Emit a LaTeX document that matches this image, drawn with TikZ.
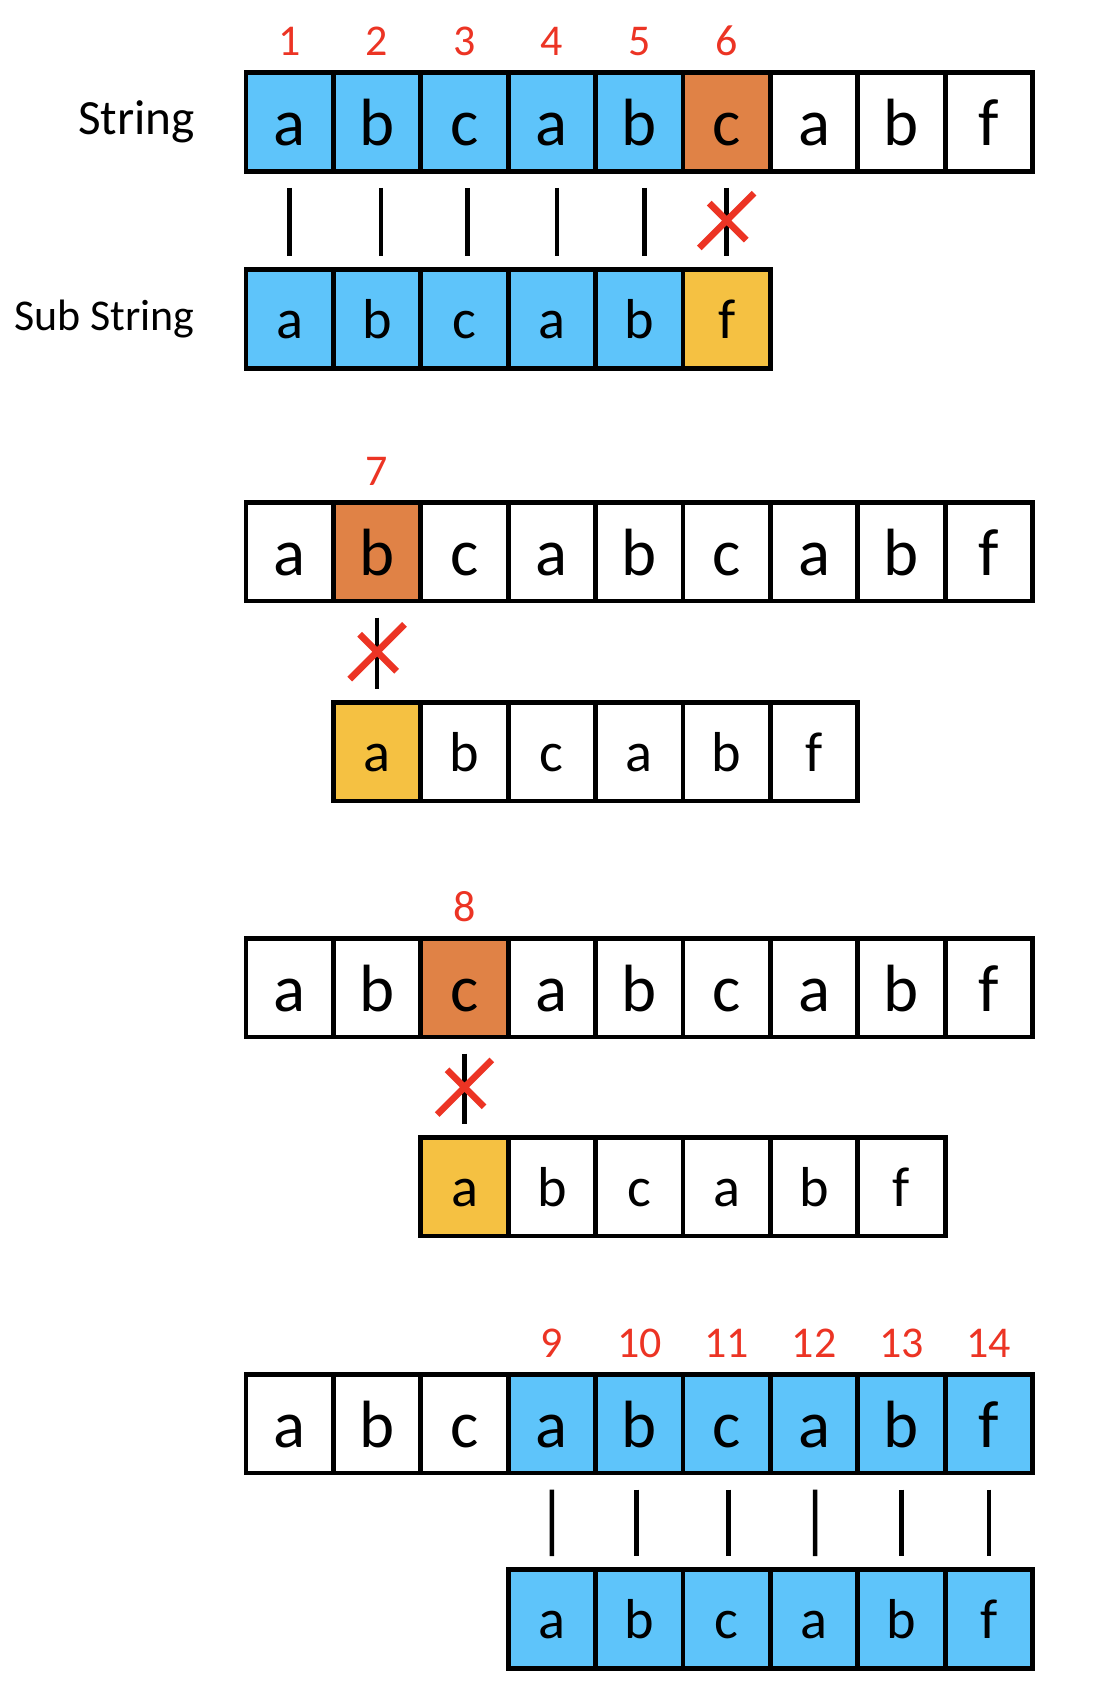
\documentclass[tikz,border=0pt]{standalone}
\usepackage{fontspec}
\setmainfont{Carlito}
\usetikzlibrary{calc,positioning,shapes.misc}
\definecolor{cellblue}{RGB}{94,196,250}
\definecolor{cellorange}{RGB}{224,130,70}
\definecolor{cellyellow}{RGB}{245,193,66}
\definecolor{markred}{RGB}{236,52,36}
\tikzset{
  cell/.style={draw, line width=1.4pt, minimum width=0.874cm, minimum height=0.985cm, inner sep=0pt, anchor=north west},
  bigcell/.style={cell, font=\fontsize{19}{19}\selectfont, text height=13.3pt, text depth=0pt},
  subcell/.style={cell, font=\fontsize{16}{16}\selectfont, text height=11.2pt, text depth=0pt},
  idx/.style={text=markred, font=\fontsize{12.5}{12.5}\selectfont, inner sep=0pt},
  rowlabel/.style={font=\fontsize{14}{14}\selectfont, inner sep=0pt},
  sublabel/.style={font=\fontsize{12.5}{12.5}\selectfont, inner sep=0pt},
  matchline/.style={line width=1.3pt, shorten <=0.14cm, shorten >=0.11cm},
  crossmark/.style={draw=markred, cross out, line width=1.9pt, minimum size=0.48cm, inner sep=0pt}
}

\begin{document}
\begin{tikzpicture}[x=0.01cm, y=-0.01cm]
    \useasboundingbox (0,0) rectangle (1094,1696);
    % first try: mismatch at 6
    \foreach \ch/\fc [count=\i] in {a/cellblue,b/cellblue,c/cellblue,a/cellblue,b/cellblue,c/cellorange,a/white,b/white,f/white}
        {\node[bigcell, fill=\fc] (t1-\i) at ({243.5+87.4*(\i-1)},70.3) {\ch};}
    \foreach \ch/\fc [count=\i] in {a/cellblue,b/cellblue,c/cellblue,a/cellblue,b/cellblue,f/cellyellow}
        {\node[subcell, fill=\fc] (p1-\i) at ({243.5+87.4*(\i-1)},267.3) {\ch};}
    \foreach \i in {1,...,6} {\node[idx] (n1-\i) at ($(t1-\i.north)+(0,-29)$) {\i};}
    \node[rowlabel, left=0.48cm of t1-1] (lstr) {String};
    \node[sublabel, left=0.48cm of p1-1] (lsub) {Sub String};
    \foreach \i/\dx in {1/0,2/4,3/3,4/5,5/5}
        {\draw[matchline] ($(t1-\i.south)+(\dx,0)$) -- ($(p1-\i.north)+(\dx,0)$);}
    \draw[matchline] (t1-6.south) -- (p1-6.north) node[crossmark, midway] (x1) {};

    % second try: mismatch at 7
    \foreach \ch/\fc [count=\i] in {a/white,b/cellorange,c/white,a/white,b/white,c/white,a/white,b/white,f/white}
        {\node[bigcell, fill=\fc] (t2-\i) at ({243.5+87.4*(\i-1)},500) {\ch};}
    \foreach \ch/\fc [count=\i] in {a/cellyellow,b/white,c/white,a/white,b/white,f/white}
        {\node[subcell, fill=\fc] (p2-\i) at ({330.9+87.4*(\i-1)},700) {\ch};}
    \node[idx] (n2-2) at ($(t2-2.north)+(0,-29)$) {7};
    \draw[matchline] (t2-2.south) -- (p2-1.north) node[crossmark, midway] (x2) {};

    % third try: mismatch at 8
    \foreach \ch/\fc [count=\i] in {a/white,b/white,c/cellorange,a/white,b/white,c/white,a/white,b/white,f/white}
        {\node[bigcell, fill=\fc] (t3-\i) at ({243.5+87.4*(\i-1)},936) {\ch};}
    \foreach \ch/\fc [count=\i] in {a/cellyellow,b/white,c/white,a/white,b/white,f/white}
        {\node[subcell, fill=\fc] (p3-\i) at ({418.3+87.4*(\i-1)},1135) {\ch};}
    \node[idx] (n3-3) at ($(t3-3.north)+(0,-29)$) {8};
    \draw[matchline] (t3-3.south) -- (p3-1.north) node[crossmark, midway] (x3) {};

    % fourth try: full match
    \foreach \ch/\fc [count=\i] in {a/white,b/white,c/white,a/cellblue,b/cellblue,c/cellblue,a/cellblue,b/cellblue,f/cellblue}
        {\node[bigcell, fill=\fc] (t4-\i) at ({243.5+87.4*(\i-1)},1372) {\ch};}
    \foreach \ch [count=\i] in {a,b,c,a,b,f}
        {\node[subcell, fill=cellblue] (p4-\i) at ({505.7+87.4*(\i-1)},1567) {\ch};}
    \foreach \i/\n in {4/9,5/10,6/11,7/12,8/13,9/14} {\node[idx] (n4-\i) at ($(t4-\i.north)+(0,-29)$) {\n};}
    \foreach \i/\j/\dx in {4/1/0,5/2/-3,6/3/2,7/4/1,8/5/0,9/6/0}
        {\draw[matchline] ($(t4-\i.south)+(\dx,0)$) -- ($(p4-\j.north)+(\dx,0)$);}
\end{tikzpicture}
\end{document}
